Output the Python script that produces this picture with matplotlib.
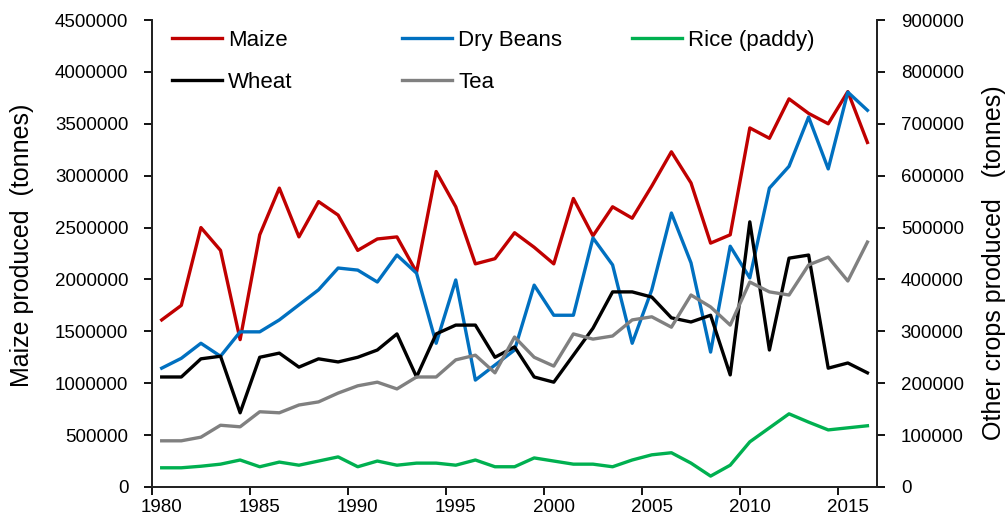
import matplotlib
matplotlib.use('Agg')
import matplotlib.pyplot as plt

plt.rcParams['font.family'] = ['Liberation Sans', 'DejaVu Sans']

# data
years = list(range(1980, 2017))
maize = [1610000, 1750000, 2500000, 2280000, 1420000, 2430000, 2880000, 2410000, 2750000, 2620000,
         2280000, 2390000, 2410000, 2070000, 3040000, 2700000, 2150000, 2200000, 2450000, 2310000,
         2150000, 2780000, 2420000, 2700000, 2590000, 2900000, 3230000, 2930000, 2350000, 2430000,
         3460000, 3360000, 3740000, 3600000, 3500000, 3810000, 3320000]
dry_beans = [229, 248, 277, 252, 299, 299, 322, 351, 380, 422,
             418, 395, 447, 412, 277, 399, 206, 235, 264, 389,
             331, 331, 480, 428, 277, 380, 528, 432, 260, 464,
             403, 576, 618, 713, 613, 761, 726]
rice = [37, 37, 40, 44, 52, 39, 48, 42, 50, 58,
        39, 50, 42, 46, 46, 42, 52, 39, 39, 56,
        50, 44, 44, 39, 52, 62, 66, 46, 21, 42,
        87, 114, 141, 125, 110, 114, 118]
wheat = [212, 212, 247, 252, 143, 250, 258, 231, 247, 241,
         250, 264, 295, 212, 295, 312, 312, 250, 270, 212,
         202, 254, 306, 376, 376, 366, 326, 318, 331, 216,
         511, 264, 441, 447, 229, 239, 220]
tea = [89, 89, 96, 119, 116, 145, 143, 158, 164, 181,
       195, 202, 189, 212, 212, 245, 254, 220, 289, 250,
       233, 295, 285, 291, 322, 328, 308, 370, 347, 312,
       395, 376, 370, 428, 443, 397, 472]

dry_beans = [v * 1000 for v in dry_beans]
rice = [v * 1000 for v in rice]
wheat = [v * 1000 for v in wheat]
tea = [v * 1000 for v in tea]

left_ticks = list(range(0, 4500001, 500000))
right_ticks = list(range(0, 900001, 100000))
year_labels = list(range(1980, 2016, 5))

fig = plt.figure(figsize=(10.06, 5.25), dpi=100)
ax = fig.add_axes([0.151, 0.0724, 0.721, 0.8895])
ax2 = ax.twinx()

lw = 2.4
l_maize, = ax.plot(years, maize, color='#C00000', lw=lw)
l_beans, = ax2.plot(years, dry_beans, color='#0070C0', lw=lw)
l_rice, = ax2.plot(years, rice, color='#00B050', lw=lw)
l_wheat, = ax2.plot(years, wheat, color='black', lw=lw)
l_tea, = ax2.plot(years, tea, color='#808080', lw=lw)

ax.set_xlim(1979.5, 2016.5)
ax.set_ylim(0, 4500000)
ax2.set_ylim(0, 900000)

ax.set_yticks(left_ticks)
ax.set_yticklabels([str(v) for v in left_ticks])
ax2.set_yticks(right_ticks)
ax2.set_yticklabels([str(v) for v in right_ticks])
ax.set_xticks(year_labels)
ax.set_xticklabels([str(y) for y in year_labels])
ax.set_xticks([1979.5 + 5 * k for k in range(8)], minor=True)

ax.tick_params(axis='x', which='major', length=0, pad=9, labelsize=13.5)
ax.tick_params(axis='x', which='minor', length=6, width=1.3, direction='out')
ax.tick_params(axis='y', length=6, width=1.3, pad=11, labelsize=13.5)
ax2.tick_params(axis='y', length=6, width=1.3, pad=11, labelsize=13.5)

for a in (ax, ax2):
    a.spines['top'].set_visible(False)
    for s in ('left', 'right', 'bottom'):
        a.spines[s].set_linewidth(1.3)
        a.spines[s].set_color('#222222')

fig.text(0.022, 0.533, 'Maize produced  (tonnes)', rotation=90, ha='center', va='center', fontsize=18)
fig.text(0.988, 0.50, 'Other crops produced   (tonnes)', rotation=90, ha='center', va='center', fontsize=18)

leg_kw = dict(loc='upper left', bbox_transform=fig.transFigure, frameon=False, fontsize=16,
              handlelength=2.25, handletextpad=0.27, labelspacing=0.93,
              borderpad=0, borderaxespad=0)
leg1 = ax2.legend([l_maize, l_wheat], ['Maize', 'Wheat'], bbox_to_anchor=(0.171, 0.943), **leg_kw)
ax2.add_artist(leg1)
leg2 = ax2.legend([l_beans, l_tea], ['Dry Beans', 'Tea'], bbox_to_anchor=(0.400, 0.943), **leg_kw)
ax2.add_artist(leg2)
ax2.legend([l_rice], ['Rice (paddy)'], bbox_to_anchor=(0.628, 0.943), **leg_kw)

fig.savefig('out.png', dpi=100)
